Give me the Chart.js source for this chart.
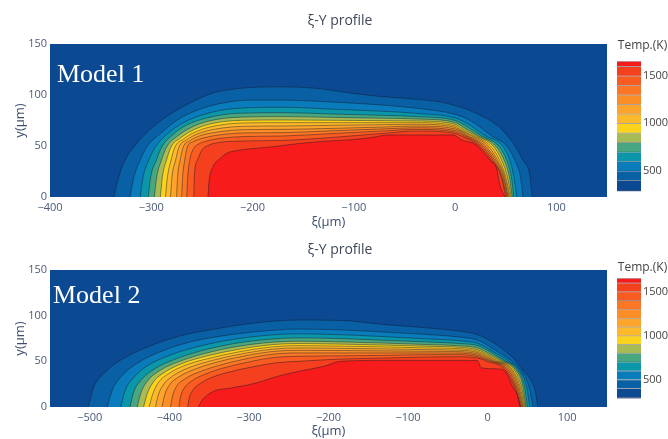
<!DOCTYPE html>
<html>
<head>
<meta charset="utf-8">
<script src="https://cdn.jsdelivr.net/npm/chart.js@4.4.1/dist/chart.umd.min.js"></script>
<style>
  body { margin: 0; background: #fff; }
  #wrap { position: relative; width: 668px; height: 439px; }
  canvas { position: absolute; }
</style>
</head>
<body>
<div id="wrap">
  <canvas id="c1" width="668" height="230" style="left:0;top:0"></canvas>
  <canvas id="c2" width="668" height="209" style="left:0;top:230px"></canvas>
  <canvas id="cb1" width="58" height="166" style="left:610px;top:34px"></canvas>
  <canvas id="cb2" width="58" height="151" style="left:610px;top:256px"></canvas>
</div>
<script>
// colour bands of the temperature scale (K)
var bandEdges = [285, 300, 400, 500, 600, 700, 800, 900, 1000, 1100, 1200, 1300, 1400, 1500, 1600, 1655];
var bandColors = ["#0a2c74", "#0b4a93", "#0a60a4", "#0a7bbb", "#0c96a9", "#48a780", "#a7bb57",
                  "#fcd31c", "#fcb92c", "#fca42b", "#fc8e28", "#fb7725", "#f95c21", "#f5401f", "#f71b1c"];
var levels = [400, 500, 600, 700, 800, 900, 1000, 1100, 1200, 1300, 1400, 1500, 1600];
var cbTicks = [500, 1000, 1500];
var yTicks = [0, 50, 100, 150];
var m1Ticks = [-400, -300, -200, -100, 0, 100];
var m2Ticks = [-500, -400, -300, -200, -100, 0, 100];

// Model 1 isotherms, [xi (um), y (um)]
var m1c400 = [[-337,0],[-332,20],[-326,36],[-314,53],[-298,69],[-280,82],[-262,92],[-239,102],[-212,106.5],[-176,108],[-137,106.5],[-104,102],[-71,98.3],[-38,95.8],[-8,91.8],[21,82],[43,69],[57.5,52.6],[67,36],[74,20],[76,0]];
var m1c500 = [[-321,0],[-317,20],[-311,36],[-304.5,49],[-290,63],[-275,75],[-255,85],[-230,92],[-200,95],[-170,95],[-120,93],[-70,90],[-38,87],[0,81],[15,75],[36,60],[51,50],[59,36],[64.5,20],[67,0]];
var m1c600 = [[-311,0],[-308,20],[-302.5,36],[-296,49],[-284,62],[-268,73],[-248,81],[-220,86.5],[-170,88],[-120,86],[-70,84],[-38,82],[0,77.5],[12,72],[30,60],[47,50],[54,36],[58,20],[61,0]];
var m1c700 = [[-303,0],[-300.5,20],[-295,36],[-289.7,49],[-280,60],[-265,70.5],[-245,77.5],[-215,82],[-170,82.7],[-120,81.3],[-70,80],[-38,78.8],[0,75],[10,70],[26,60],[43,50],[51,36],[55.5,20],[58,0]];
var m1c800 = [[-297,0],[-294.5,20],[-290,36],[-284.8,49],[-275,59],[-261,68],[-243,74.5],[-212,78.3],[-170,78.8],[-120,78],[-70,77.2],[-38,76.5],[0,73],[8,68.5],[23,60],[40,50],[48.5,36],[53.5,20],[56.5,0]];
var m1c900 = [[-291,0],[-289,20],[-285,36],[-280.5,49],[-271,58],[-258,66],[-240,72],[-210,75.2],[-170,75.5],[-120,75.2],[-70,74.8],[-38,74.5],[0,71.3],[7,67],[20.5,60],[37.5,50],[46,36],[51.5,20],[55.5,0]];
var m1c1000 = [[-286,0],[-284,20],[-280.5,36],[-276.6,49],[-268,57],[-256,64],[-238,69.5],[-208,72.6],[-170,72.9],[-120,72.9],[-70,72.9],[-38,72.9],[0,69.8],[6,66],[18,60],[35,50],[44,36],[50,20],[54.5,0]];
var m1c1100 = [[-281,0],[-279.5,20],[-276,36],[-272.6,49],[-265,56],[-254,62],[-237,66.5],[-208,69.3],[-170,69.6],[-120,70.3],[-70,70.9],[-38,71.3],[0,68.3],[5,65.5],[16,60],[32.5,50],[42,36],[49,20],[53.5,0]];
var m1c1200 = [[-275,0],[-274,20],[-271.5,36],[-268.4,49],[-262,55],[-252,60],[-236,63.5],[-208,66],[-170,66.3],[-120,67.3],[-70,68.6],[-38,69.6],[0,66.8],[13,60],[30,50],[40.5,36],[48,20],[52.5,0]];
var m1c1300 = [[-270,0],[-269,20],[-267,36],[-264.4,49],[-259,54],[-250,57.5],[-235,60.5],[-208,62.8],[-170,63.1],[-120,65],[-70,66.8],[-38,67.9],[0,65.3],[11,60],[28,50],[39,36],[47,20],[52,0]];
var m1c1400 = [[-265,0],[-264,20],[-262,36],[-258.5,47],[-253,52],[-245,55],[-232,57.5],[-208,59.3],[-170,59.8],[-120,62.3],[-70,64.8],[-38,66.3],[0,63.8],[9,60],[26,50],[37.5,36],[46,20],[51,0]];
var m1c1500 = [[-258,0],[-257.5,20],[-254.5,36],[-250,46],[-244,50.5],[-236,53],[-215,54.8],[-170,55.5],[-120,58.5],[-70,62.5],[-38,64.7],[0,62.3],[6,60],[24,50],[36,36],[45.5,20],[50,0]];
var m1c1600 = [[-244,0],[-243,15],[-239,30],[-234,36],[-225,43],[-212,46],[-180,49.3],[-153,52.6],[-120,55.2],[-104,56],[-81,58.5],[-67,60.8],[-2,60.8],[6.5,56],[21,51],[34.5,36],[41,28],[44,13],[49,0]];

// Model 2 isotherms
var m2c400 = [[-502,0],[-495,22],[-482,37],[-460,52],[-425,66.5],[-388,77.5],[-345,85],[-292,92],[-238,95.2],[-185,94.8],[-131,90.4],[-77,86.7],[-35,83],[-12,79],[14,66.5],[35,51],[43.5,41],[54,30],[60,17],[63,0]];
var m2c500 = [[-478,0],[-472,18],[-460,34],[-440,48],[-410,61],[-370,72],[-320,79.5],[-270,84],[-238,85.3],[-180,84.3],[-130,82],[-77,79.4],[-35,76.5],[-12,73],[8,63],[29,51],[41,41],[52,22],[57,0]];
var m2c600 = [[-461,0],[-456,17],[-445,32],[-428,45],[-400,56.5],[-365,66],[-320,74],[-270,79],[-238,80.1],[-180,79],[-130,77],[-77,74.6],[-35,72.5],[-12,69.5],[6,61],[25,51],[39,41],[49,22],[53,0]];
var m2c700 = [[-449.5,0],[-445,16],[-435,30],[-418,42],[-392,52.5],[-360,61.5],[-318,69.5],[-270,74.5],[-238,75.7],[-180,74.8],[-130,73],[-77,71.3],[-35,69.5],[-12,67],[4,60],[21,51],[37,41],[46.5,22],[50,0]];
var m2c800 = [[-440.4,0],[-436,15],[-427,29],[-411,40.5],[-387,50],[-356,58.5],[-316,66],[-270,71],[-238,72],[-180,71.2],[-130,70],[-77,68.4],[-35,67],[-12,64.5],[2,58.5],[18,51],[35,41],[44.5,22],[48,0]];
var m2c900 = [[-432.4,0],[-428,14],[-420,27.5],[-405,38.5],[-383,48],[-352,56],[-314,63],[-270,68.3],[-238,69.5],[-180,68.8],[-130,67.8],[-77,66.5],[-35,65.3],[-12,62.5],[0,57.5],[15,51],[33,41],[42.5,22],[47,0]];
var m2c1000 = [[-425.4,0],[-421,14],[-414,26.5],[-400,37],[-379,46],[-349,53.5],[-312,60.5],[-270,65.8],[-238,67.2],[-180,66.6],[-130,65.8],[-77,64.7],[-35,63.8],[-12,61],[-1,56.5],[12,51],[31,41],[41,22],[46,0]];
var m2c1100 = [[-417.4,0],[-414,13],[-407,25],[-394,35],[-374,43.5],[-346,51],[-310,58],[-270,63.3],[-238,64.7],[-180,64.2],[-130,63.6],[-77,62.8],[-35,62.2],[-12,59.5],[-2,55.5],[9,51],[29.5,41],[39.5,22],[45,0]];
var m2c1200 = [[-409.3,0],[-406,13],[-400,24],[-388,33],[-369,41],[-343,48.5],[-308,55.5],[-270,60.8],[-238,62.1],[-180,61.8],[-130,61.4],[-77,61],[-35,60.6],[-12,58],[-3,54.5],[6,51],[27.5,41],[38,22],[44,0]];
var m2c1300 = [[-398.6,0],[-396,12],[-391,22.5],[-380,31],[-362,38.5],[-338,45.5],[-305,52.5],[-270,57.8],[-238,59.2],[-180,59.2],[-130,59.2],[-77,59.2],[-35,59],[-12,56.5],[-4,53.5],[3,51],[25.5,41],[36.5,22],[43,0]];
var m2c1400 = [[-388,0],[-386,11],[-381,21],[-371,29],[-355,36],[-333,42.5],[-302,49],[-270,54],[-238,55.5],[-180,56],[-130,56.6],[-77,57.3],[-35,57.3],[-12,55],[-5,52.5],[0,51],[23.5,41],[35,22],[42,0]];
var m2c1500 = [[-377,0],[-375,10],[-370,19],[-360,26.5],[-345,33],[-324,38.5],[-295,44],[-265,48.5],[-238,50],[-185,52.5],[-131,53.6],[-77,54.7],[-35,55],[-12,53.5],[-6,52],[-4,51],[21.5,41],[33.5,22],[41.5,0]];
var m2c1600 = [[-363.8,0],[-358.5,7.7],[-345,17],[-324,20.6],[-292,26],[-265,33.4],[-238,38.9],[-206,44.5],[-185,50],[-131,51],[-13,51],[-8,43],[5,42],[19,40.8],[26,33],[31.3,22],[37.7,12],[40.4,0]];

var model1 = [m1c400, m1c500, m1c600, m1c700, m1c800, m1c900, m1c1000, m1c1100, m1c1200, m1c1300, m1c1400, m1c1500, m1c1600];
var model2 = [m2c400, m2c500, m2c600, m2c700, m2c800, m2c900, m2c1000, m2c1100, m2c1200, m2c1300, m2c1400, m2c1500, m2c1600];

var FONT = "'Open Sans', sans-serif";
var tickColor = "#4a5a78";
var axisColor = "#3e4f6e";

function fmt(v) { return v < 0 ? "\u2212" + Math.abs(v) : "" + v; }

// background of the plot area + title + model name
var panelDeco = {
    id: "panelDeco",
    beforeDraw: function(chart, args, o) {
        var a = chart.chartArea, ctx = chart.ctx;
        ctx.save();
        ctx.fillStyle = bandColors[1];
        ctx.fillRect(a.left, a.top, a.right - a.left, a.bottom - a.top);
        ctx.restore();
    },
    afterDraw: function(chart, args, o) {
        var ctx = chart.ctx;
        ctx.save();
        ctx.fillStyle = "#3f4858";
        ctx.font = "14px " + FONT;
        ctx.textAlign = "center";
        ctx.textBaseline = "middle";
        ctx.fillText("\u03BE-Y profile", 340, o.titleY);
        ctx.fillStyle = "#ffffff";
        ctx.font = "26px 'Liberation Serif', serif";
        ctx.textAlign = "left";
        ctx.textBaseline = "alphabetic";
        ctx.fillText(o.label, o.lx, o.ly);
        ctx.restore();
    }
};

function contourSets(list)
{
    var sets = [];
    for (var i = 0; i < list.length; i++) {
        sets.push({
            label: levels[i] + " K",
            data: list[i].map(function(p) { return {x: p[0], y: p[1]}; }),
            backgroundColor: bandColors[i + 2],
            borderColor: "rgba(15,20,40,0.55)",
            borderWidth: 0.8,
            fill: "origin",
            pointRadius: 0,
            cubicInterpolationMode: "monotone"
        });
    }
    return sets.reverse();   // innermost on top
}

function makePanel(id, list, ticks, xmin, xmax, padTop, xh, xTitlePad, deco)
{
    new Chart(document.getElementById(id), {
        type: "line",
        data: { datasets: contourSets(list) },
        plugins: [panelDeco],
        options: {
            responsive: false,
            animation: false,
            devicePixelRatio: 1,
            layout: { padding: { top: padTop, right: 61, left: 0, bottom: 0 } },
            plugins: { legend: { display: false }, tooltip: { enabled: false }, panelDeco: deco },
            scales: {
                x: {
                    type: "linear", min: xmin, max: xmax,
                    grid: { display: false, drawTicks: false },
                    border: { display: false },
                    ticks: { color: tickColor, font: { size: 11, family: FONT }, padding: 4, callback: fmt, maxRotation: 0 },
                    afterBuildTicks: function(s) { s.ticks = ticks.map(function(v) { return {value: v}; }); },
                    afterFit: function(s) { s.height = xh; },
                    title: { display: true, text: "\u03BE(\u03BCm)", color: axisColor, font: { size: 13, family: FONT }, padding: { top: 0, bottom: xTitlePad } }
                },
                y: {
                    min: 0, max: 150,
                    grid: { display: false, drawTicks: false },
                    border: { display: false },
                    ticks: { color: tickColor, font: { size: 11, family: FONT }, padding: 3, callback: fmt },
                    afterBuildTicks: function(s) { s.ticks = yTicks.map(function(v) { return {value: v}; }); },
                    afterFit: function(s) { s.width = 50; },
                    title: { display: true, text: "y(\u03BCm)", color: axisColor, font: { size: 13, family: FONT }, padding: { top: 12, bottom: 0 } }
                }
            }
        }
    });
}

function makeColorbar(id, titlePadBottom)
{
    var sets = [];
    for (var i = 0; i < bandColors.length; i++) {
        sets.push({
            data: [[bandEdges[i], bandEdges[i + 1]]],
            backgroundColor: bandColors[i],
            borderColor: "rgba(20,20,40,0.35)",
            borderWidth: { top: 1, bottom: 0, left: 0, right: 0 },
            borderSkipped: false,
            grouped: false,
            barPercentage: 1,
            categoryPercentage: 1
        });
    }
    new Chart(document.getElementById(id), {
        type: "bar",
        data: { labels: [""], datasets: sets },
        options: {
            responsive: false,
            animation: false,
            devicePixelRatio: 1,
            layout: { padding: { top: 0, bottom: 8, left: 7, right: 0 } },
            plugins: {
                legend: { display: false },
                tooltip: { enabled: false },
                title: { display: true, text: "Temp.(K)", color: "#444", font: { size: 12, family: FONT, weight: "normal" }, padding: { top: 4, bottom: titlePadBottom } }
            },
            scales: {
                x: { display: false },
                y: {
                    position: "right", min: bandEdges[0], max: bandEdges[bandEdges.length - 1],
                    grid: { display: false, drawTicks: false },
                    border: { display: false },
                    ticks: { color: "#444", font: { size: 11, family: FONT }, padding: 2, callback: function(v) { return "" + v; } },
                    afterBuildTicks: function(s) { s.ticks = cbTicks.map(function(v) { return {value: v}; }); },
                    afterFit: function(s) { s.width = 27; }
                }
            }
        }
    });
}

makePanel("c1", model1, m1Ticks, -400, 150, 44, 33, 0, { titleY: 21, label: "Model 1", lx: 57, ly: 82 });
makePanel("c2", model2, m2Ticks, -550, 150, 40, 32, 0, { titleY: 20, label: "Model 2", lx: 53, ly: 73 });
makeColorbar("cb1", 8.6);
makeColorbar("cb2", 3.6);
</script>
</body>
</html>
